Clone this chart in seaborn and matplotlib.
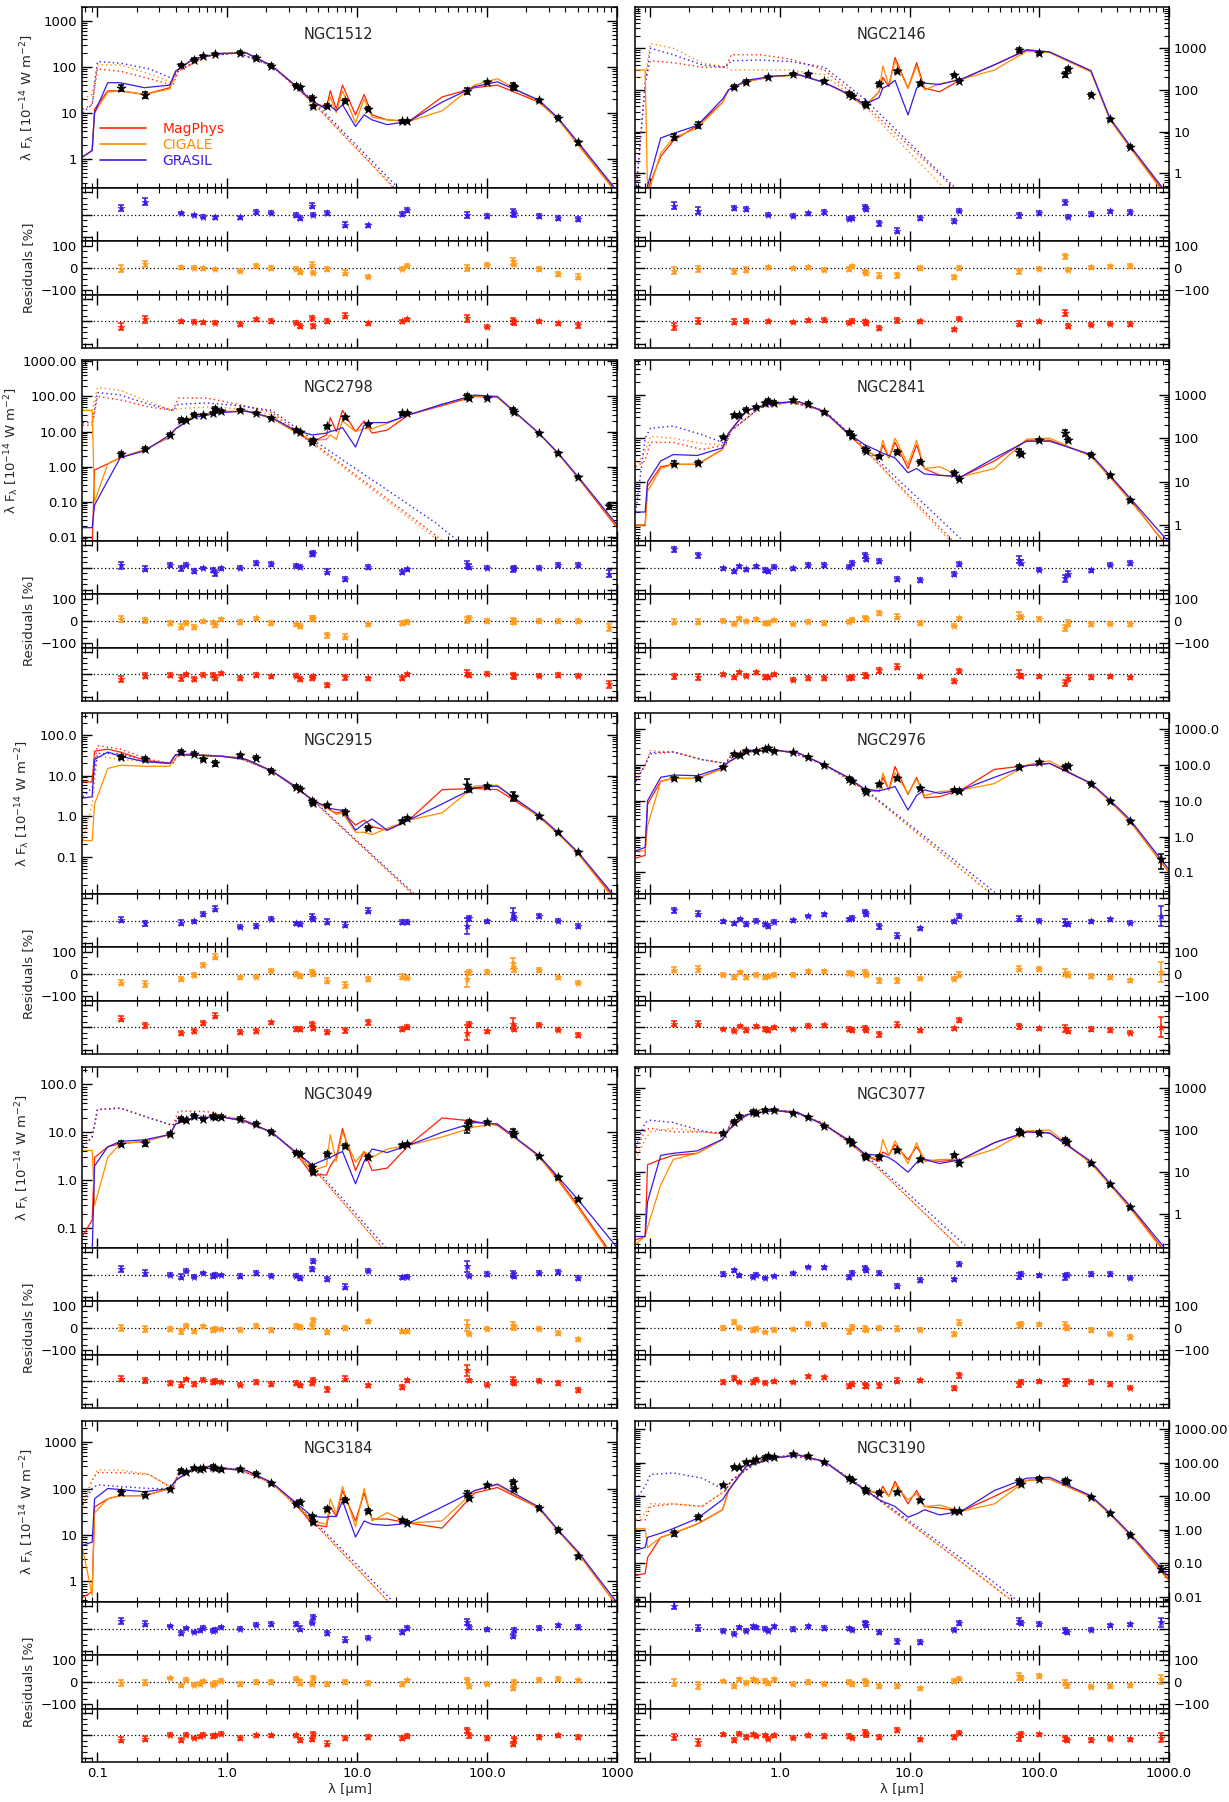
import matplotlib
matplotlib.use("Agg")
import matplotlib.pyplot as plt
import seaborn as sns
from matplotlib.ticker import LogLocator, FixedLocator, FuncFormatter, NullFormatter, MultipleLocator
from matplotlib.lines import Line2D

# wavelength grids of the model curves (micron)
model_lam = [0.077, 0.091, 0.095, 0.12, 0.15, 0.23, 0.36, 0.40, 0.55, 0.9, 1.4, 2.2, 3.3, 4.5, 5.8,
             6.2, 6.9, 7.7, 9.7, 11.3, 13, 17, 25, 45, 80, 120, 250, 350, 500, 1000]
unatt_lam = [0.077, 0.091, 0.1, 0.15, 0.25, 0.38, 0.42, 0.7, 1.2, 2.2, 4.5, 40, 100]

# ---------------- NGC1512 ----------------
ngc1512_lam = [0.153, 0.231, 0.44, 0.55, 0.65, 0.80, 1.25, 1.65, 2.17, 3.4, 3.6, 4.5, 4.6, 5.8, 8.0, 12, 22, 24, 70, 100, 157, 162, 250, 350, 500]
ngc1512_flux = [35, 24.5, 109, 144, 170, 188, 204, 156, 105, 39, 36, 21, 13.7, 14, 18, 12.2, 6.5, 6.5, 30, 46, 38, 36, 18.5, 7.8, 2.25]
ngc1512_err = [15, 15, 6, 6, 6, 6, 8, 8, 8, 8, 8, 10, 8, 10, 10, 8, 8, 8, 15, 8, 15, 12, 8, 8, 10]
ngc1512_res_grasil = [30, 59, 8, -2, -9, -12, -12, 12, 9, -2, -14, 41, 0, 8, -45, -48, 3, 21, -2, -6, 9, 3, -6, -14, -20]
ngc1512_res_cigale = [-3, 18, 3, 2, -2, -5, -12, 9, 0, -3, -18, 15, -21, -5, -21, -39, -3, 11, 0, 15, 30, 20, -5, -27, -39]
ngc1512_res_magphys = [-24, 9, 0, -2, -5, -6, -12, 9, 2, -6, -21, 14, -21, 2, 26, -9, 0, 9, 14, -24, 2, -5, 0, -9, -18]
ngc1512_magphys = [1.1, 1.5, 12, 30, 30, 25, 35, 80, 150, 195, 200, 105, 40, 17, 13, 30, 12, 40, 9, 25, 9, 7, 6.5, 22, 35, 40, 17, 7.5, 2.1, 0.18]
ngc1512_cigale = [1.1, 1.5, 10, 28, 30, 25, 33, 80, 150, 195, 200, 105, 40, 17, 12, 22, 10, 30, 6, 20, 8, 7, 6.5, 11, 40, 55, 17, 7.3, 2.0, 0.17]
ngc1512_grasil = [1.1, 1.5, 10, 45, 45, 35, 40, 80, 150, 195, 200, 105, 40, 18, 12, 14, 11, 15, 5, 9, 7, 5.5, 6.5, 17, 37, 47, 19, 7.8, 2.3, 0.2]
ngc1512_magphys_unatt = [12, 15, 90, 80, 55, 40, 80, 170, 200, 105, 17, 0.027, 0.0017]
ngc1512_cigale_unatt = [20, 25, 110, 110, 70, 45, 80, 170, 200, 105, 17, 0.025, 0.0016]
ngc1512_grasil_unatt = [10, 15, 130, 120, 90, 55, 85, 175, 200, 107, 19, 0.034, 0.0022]

# ---------------- NGC2146 ----------------
ngc2146_lam = [0.153, 0.231, 0.44, 0.55, 0.80, 1.25, 1.65, 2.17, 3.4, 3.6, 4.5, 4.6, 5.8, 8.0, 12, 22, 24, 70, 100, 157, 165, 250, 350, 500]
ngc2146_flux = [7.4, 14.5, 120, 155, 209, 237, 237, 162, 81, 73, 48, 43, 137, 280, 145, 229, 165, 910, 760, 237, 325, 77, 20, 4.3]
ngc2146_err = [15, 15, 10, 10, 6, 6, 6, 8, 8, 8, 8, 8, 10, 10, 8, 8, 8, 10, 8, 12, 8, 8, 8, 8]
ngc2146_res_grasil = [40, 18, 30, 25, 0, -4, 6, 12, -18, -15, 34, 25, -39, -72, -15, -28, 18, -3, 7, 55, -9, 3, 15, 13]
ngc2146_res_cigale = [-12, -4, -15, -7, 3, 0, 3, -7, -4, 7, -15, -22, -34, -33, -1, -40, 0, -15, -3, 52, -7, 3, 7, 10]
ngc2146_res_magphys = [-22, 1, -1, 1, 0, -3, 4, 7, -6, 1, 0, -9, -30, 4, 0, -36, 12, -10, 0, 37, -21, -15, -10, -13]
ngc2146_magphys = [0.1, 0.2, 0.4, 2.5, 6, 14, 50, 100, 160, 210, 230, 150, 80, 40, 90, 200, 120, 600, 110, 450, 110, 90, 180, 400, 900, 800, 280, 20, 4.3, 0.25]
ngc2146_cigale = [300, 300, 0.3, 3, 7, 12, 50, 100, 160, 210, 230, 150, 80, 40, 90, 380, 130, 500, 110, 380, 100, 140, 180, 300, 850, 780, 270, 19, 4.1, 0.22]
ngc2146_grasil = [0.1, 0.2, 0.5, 7, 9, 14, 60, 100, 170, 215, 230, 150, 82, 45, 65, 110, 130, 170, 25, 110, 145, 135, 180, 400, 920, 820, 290, 21, 4.6, 0.28]
ngc2146_magphys_unatt = [0.3, 150, 500, 450, 350, 350, 700, 700, 550, 300, 45, 0.076, 0.0049]
ngc2146_cigale_unatt = [200, 200, 1300, 1000, 450, 350, 300, 300, 300, 230, 40, 0.037, 0.0024]
ngc2146_grasil_unatt = [0.3, 130, 1000, 700, 400, 350, 500, 520, 480, 350, 60, 0.076, 0.0049]

# ---------------- NGC2798 ----------------
ngc2798_lam = [0.153, 0.231, 0.36, 0.44, 0.48, 0.55, 0.65, 0.77, 0.80, 0.90, 1.25, 1.65, 2.17, 3.4, 3.6, 4.5, 4.6, 5.8, 8.0, 12, 22, 24, 70, 72, 100, 157, 162, 250, 350, 500, 870]
ngc2798_flux = [2.3, 3.2, 8.2, 21.6, 21.6, 30.6, 30.6, 34, 45, 38, 41, 34, 24.5, 10.7, 9.6, 5.0, 5.7, 14.2, 25.7, 16.6, 33, 34, 102, 91, 90, 41, 37, 9.0, 2.4, 0.50, 0.074]
ngc2798_err = [15, 12, 8, 12, 6, 8, 6, 8, 10, 6, 8, 8, 8, 8, 8, 10, 8, 10, 10, 8, 8, 8, 15, 10, 8, 12, 10, 8, 8, 8, 15]
ngc2798_res_grasil = [11, -5, 11, -3, 14, -15, -2, -11, -26, -3, 0, 20, 17, 9, 5, 62, 68, -18, -52, 3, -20, -8, 15, 5, 0, -8, -2, 0, 12, 12, -27]
ngc2798_res_cigale = [9, 3, -8, -26, -8, -26, -2, -6, -18, 8, -5, 12, -8, -15, -23, 11, 15, -65, -70, -15, -8, -5, 5, 12, 0, 0, -3, 0, 0, 0, -29]
ngc2798_res_magphys = [-21, -6, -2, -17, 0, -21, -2, -2, -17, 5, -17, -3, -9, -6, -21, -17, -9, -47, -14, -18, -17, 0, 6, -3, 3, -5, -9, -6, -2, -6, -45]
ngc2798_magphys = [0.005, 0.005, 0.8, 1.2, 1.8, 3, 7, 12, 28, 37, 38, 24, 10, 5, 8, 25, 10, 40, 10, 20, 9, 11, 30, 55, 100, 95, 9, 2.4, 0.48, 0.018]
ngc2798_cigale = [40, 40, 0.1, 1.2, 1.8, 3, 7, 12, 28, 37, 38, 24, 10, 5.5, 6, 8, 6, 20, 10, 12, 12, 17, 30, 60, 105, 95, 9, 2.4, 0.5, 0.02]
ngc2798_grasil = [0.018, 0.018, 0.08, 0.4, 1.8, 2.8, 8, 12, 25, 35, 38, 25, 11, 8, 9, 10, 11, 13, 3.6, 15, 18, 18, 30, 60, 110, 100, 9, 2.5, 0.52, 0.022]
ngc2798_magphys_unatt = [15, 15, 100, 80, 50, 40, 90, 90, 60, 35, 5, 0.011, 0.0007]
ngc2798_cigale_unatt = [40, 40, 180, 150, 70, 40, 45, 50, 45, 30, 4.5, 0.009, 0.0006]
ngc2798_grasil_unatt = [18, 18, 130, 110, 60, 40, 60, 65, 55, 40, 6, 0.025, 0.0016]

# ---------------- NGC2841 ----------------
ngc2841_lam = [0.153, 0.231, 0.36, 0.44, 0.48, 0.55, 0.65, 0.77, 0.80, 0.90, 1.25, 1.65, 2.17, 3.4, 3.6, 4.5, 4.6, 5.8, 8.0, 12, 22, 24, 70, 72, 100, 157, 165, 250, 350, 500]
ngc2841_flux = [26, 27, 107, 335, 335, 455, 520, 630, 720, 660, 750, 620, 395, 136, 115, 55, 51, 38, 48, 29, 16, 11.8, 49, 44, 91, 131, 91, 42, 13.9, 3.7]
ngc2841_err = [12, 12, 6, 8, 6, 6, 6, 8, 8, 6, 8, 8, 8, 8, 10, 10, 8, 10, 10, 8, 8, 8, 15, 10, 8, 15, 12, 8, 8, 8]
ngc2841_res_grasil = [83, 56, -3, -17, 6, -8, 6, -11, -17, 5, -3, 12, 12, 5, 21, 55, 38, 29, -52, -56, -29, 17, 36, 23, -9, -48, -27, -12, 14, 20]
ngc2841_res_cigale = [-3, -3, 2, -12, 12, 0, 8, -11, -8, 5, -12, -3, -8, -3, 5, 12, 8, 35, 20, -8, -21, 12, 24, 17, 9, -32, -9, -14, -12, -14]
ngc2841_res_magphys = [-9, -12, 0, -14, 9, -6, 9, -11, -14, 0, -24, -17, -17, -17, -14, -5, -9, 18, 35, -9, -29, 14, 3, -8, -9, -39, -17, -12, -9, -14]
ngc2841_magphys = [1, 1, 8, 22, 25, 25, 55, 130, 430, 650, 680, 400, 130, 55, 35, 70, 35, 80, 20, 70, 20, 14, 13, 30, 90, 90, 40, 13, 4, 0.28]
ngc2841_cigale = [1, 1, 6, 20, 25, 25, 55, 130, 430, 650, 680, 400, 130, 55, 35, 90, 35, 100, 25, 90, 20, 22, 13, 20, 95, 100, 38, 12.5, 3.7, 0.3]
ngc2841_grasil = [2, 2, 10, 30, 42, 40, 60, 130, 430, 650, 690, 410, 135, 70, 50, 45, 40, 35, 16, 20, 15, 14, 13, 35, 85, 85, 42, 14, 4.2, 0.4]
ngc2841_magphys_unatt = [22, 30, 80, 80, 55, 70, 150, 500, 680, 420, 55, 0.063, 0.004]
ngc2841_cigale_unatt = [22, 50, 110, 100, 75, 70, 150, 500, 680, 420, 55, 0.05, 0.0032]
ngc2841_grasil_unatt = [2, 100, 170, 190, 120, 75, 150, 510, 690, 430, 60, 0.125, 0.008]

# ---------------- NGC2915 ----------------
ngc2915_lam = [0.153, 0.231, 0.44, 0.55, 0.65, 0.80, 1.25, 1.65, 2.17, 3.4, 3.6, 4.5, 4.6, 5.8, 8.0, 12, 22, 24, 70, 72, 100, 157, 162, 250, 350, 500]
ngc2915_flux = [29, 25.5, 38, 34.5, 25, 20, 32, 27.5, 13.1, 5.3, 4.8, 2.4, 2.05, 1.83, 1.28, 0.52, 0.75, 0.88, 6.0, 4.8, 5.5, 3.1, 2.9, 1.0, 0.40, 0.127]
ngc2915_err = [12, 12, 10, 8, 8, 12, 8, 8, 8, 8, 8, 10, 8, 10, 12, 10, 10, 8, 35, 10, 8, 25, 10, 8, 8, 8]
ngc2915_res_grasil = [4, -12, -9, -3, 30, 54, -27, -24, 9, -12, -15, 18, 7, -4, -18, 45, -7, -6, -24, 10, -3, 33, 12, 22, 0, -24]
ngc2915_res_cigale = [-39, -45, -22, -4, 40, 78, -15, -12, 15, -1, -9, 9, 0, -30, -49, -22, -12, -16, -24, 7, 10, 48, 21, 18, -15, -39]
ngc2915_res_magphys = [39, 9, -25, -16, 19, 52, -21, -16, 22, -7, -7, 15, -3, -21, -13, 22, -7, 1, -24, 13, -18, 16, -6, 12, -10, -34]
ngc2915_magphys = [7, 7, 40, 45, 38, 24, 20, 33, 32, 30, 25, 13, 5.5, 2.5, 1.6, 1.4, 1.2, 1.3, 0.6, 0.8, 0.55, 0.45, 0.8, 4.5, 4.8, 4.5, 1.0, 0.38, 0.12, 0.008]
ngc2915_cigale = [0.25, 0.25, 2, 15, 18, 17, 17, 33, 32, 30, 25, 13, 5.5, 2.5, 1.6, 1.4, 1.1, 1.2, 0.4, 0.4, 0.35, 0.5, 0.8, 1.2, 5.5, 5.8, 0.95, 0.37, 0.12, 0.007]
ngc2915_grasil = [2.8, 3, 25, 38, 30, 22, 20, 33, 32, 30, 25, 13, 5.5, 2.5, 1.7, 1.55, 1.45, 1.4, 0.45, 0.65, 0.85, 0.45, 0.8, 2.0, 5.0, 5.5, 1.05, 0.4, 0.13, 0.009]
ngc2915_magphys_unatt = [7, 8, 55, 45, 25, 20, 35, 32, 28, 13, 2.5, 0.0036, 0.00023]
ngc2915_cigale_unatt = [0.25, 2, 30, 25, 22, 20, 34, 32, 28, 13, 2.5, 0.0036, 0.00023]
ngc2915_grasil_unatt = [3, 5, 35, 35, 22, 20, 34, 32, 28, 13, 2.6, 0.004, 0.00026]

# ---------------- NGC2976 ----------------
ngc2976_lam = [0.153, 0.231, 0.36, 0.44, 0.49, 0.55, 0.65, 0.77, 0.80, 0.90, 1.25, 1.65, 2.17, 3.4, 3.6, 4.5, 4.6, 5.8, 8.0, 12, 22, 24, 70, 100, 157, 165, 250, 350, 500, 870]
ngc2976_flux = [42, 42, 88, 200, 187, 247, 247, 270, 293, 247, 222, 167, 100, 41.5, 35.5, 20, 18, 29, 42, 23, 20, 19, 88, 117, 85, 94, 30, 10, 2.75, 0.23]
ngc2976_err = [12, 12, 6, 8, 6, 8, 6, 8, 8, 6, 6, 6, 6, 8, 8, 8, 8, 10, 10, 8, 8, 10, 12, 8, 15, 10, 8, 8, 8, 45]
ngc2976_res_grasil = [47, 32, -3, -12, 8, -15, 0, -17, -23, -5, 2, 21, 29, 6, 12, 41, 29, -26, -67, -35, -3, 21, 9, 0, -9, -15, -3, 6, -9, 21]
ngc2976_res_cigale = [20, 23, -3, -14, 8, -15, -3, -15, -11, -3, -3, 12, 12, 5, 2, 8, -3, -29, -29, -20, -21, -3, 24, 23, 6, -3, -8, -15, -29, 9]
ngc2976_res_magphys = [17, 17, -8, -15, 6, -12, 5, -8, -11, 0, -8, 8, 9, -8, -11, -3, -11, -32, 12, -14, -5, 33, 5, -5, -5, -15, -8, -11, -24, 0]
ngc2976_magphys = [0.25, 0.3, 8, 35, 42, 42, 80, 120, 230, 260, 210, 100, 45, 20, 18, 45, 20, 90, 15, 45, 12, 13, 20, 75, 95, 110, 30, 10, 2.7, 0.1]
ngc2976_cigale = [0.4, 0.4, 2, 35, 42, 42, 80, 120, 230, 260, 210, 100, 45, 20, 18, 60, 20, 60, 16, 40, 14, 18, 20, 30, 100, 130, 29, 9.5, 2.6, 0.1]
ngc2976_grasil = [0.4, 0.5, 10, 45, 52, 50, 85, 120, 230, 260, 210, 100, 46, 21, 19, 20, 22, 25, 5.5, 14, 20, 16, 20, 45, 95, 110, 31, 10.5, 3.0, 0.12]
ngc2976_magphys_unatt = [35, 100, 200, 230, 140, 110, 200, 280, 230, 100, 20, 0.03, 0.0019]
ngc2976_cigale_unatt = [42, 100, 250, 230, 140, 110, 180, 280, 230, 100, 20, 0.03, 0.0019]
ngc2976_grasil_unatt = [35, 100, 220, 230, 140, 110, 180, 280, 230, 102, 21, 0.04, 0.0026]

# ---------------- NGC3049 ----------------
ngc3049_lam = [0.153, 0.231, 0.36, 0.44, 0.48, 0.55, 0.65, 0.77, 0.80, 0.90, 1.25, 1.65, 2.17, 3.4, 3.6, 4.5, 4.6, 5.8, 8.0, 12, 22, 24, 70, 72, 100, 157, 162, 250, 350, 500]
ngc3049_flux = [5.8, 6.0, 9.2, 19.3, 17.8, 22.3, 19, 21.5, 20.6, 21.3, 19.3, 15, 10.4, 3.8, 3.6, 1.94, 1.5, 3.6, 5.3, 3.1, 5.4, 5.6, 12.8, 16.7, 16.2, 10, 9.1, 3.2, 1.15, 0.40]
ngc3049_err = [12, 12, 8, 10, 6, 8, 6, 8, 8, 6, 8, 8, 8, 8, 8, 10, 10, 10, 10, 8, 8, 8, 25, 8, 8, 15, 10, 8, 8, 8]
ngc3049_res_grasil = [25, 7, 0, -9, 18, -9, 7, -7, 0, -1, -6, 7, -4, -4, -15, 25, 61, -19, -54, 18, -12, -9, 37, -4, 4, 3, -4, 7, 12, -15]
ngc3049_res_cigale = [0, -4, -4, -15, 10, -15, 7, -10, -3, -4, -7, 10, -10, 10, 4, 7, 36, -18, 0, 30, -15, -15, 12, -25, -3, 12, 3, -3, -22, -51]
ngc3049_res_magphys = [12, 4, -7, -15, 10, -12, 7, -4, 1, -3, -15, -3, -12, -7, -18, -7, 7, -36, 12, -18, -25, 4, 49, 4, -15, 4, -7, 3, -7, -40]
ngc3049_magphys = [0.07, 0.15, 3, 5, 5.8, 6.5, 9, 15, 20, 21, 17, 10, 4, 1.3, 1.3, 2, 3, 12, 1.6, 4, 1.6, 1.8, 5.4, 20, 17, 14, 3.3, 1.1, 0.3, 0.02]
ngc3049_cigale = [4.2, 4.2, 0.3, 3, 5.8, 6.5, 9, 15, 20, 21, 17, 10, 4, 1.6, 2, 9, 2.5, 10, 2.4, 4, 3, 4.5, 5.4, 8, 13, 15, 3.1, 1.0, 0.27, 0.018]
ngc3049_grasil = [0.03, 0.03, 2, 5, 6.5, 7, 9, 15, 20, 21, 17, 10, 4, 2.1, 2.8, 3, 3.5, 4, 0.85, 2.5, 4.5, 3.8, 5.4, 10, 16, 15, 3.3, 1.2, 0.4, 0.04]
ngc3049_magphys_unatt = [5, 8, 30, 32, 20, 14, 28, 27, 19, 10, 1.9, 0.0021, 0.00013]
ngc3049_cigale_unatt = [5, 8, 30, 32, 20, 14, 20, 22, 19, 10, 1.9, 0.0021, 0.00013]
ngc3049_grasil_unatt = [5, 8, 30, 32, 20, 14, 20, 22, 19, 10, 2.1, 0.0028, 0.00018]

# ---------------- NGC3077 ----------------
ngc3077_lam = [0.36, 0.44, 0.48, 0.62, 0.65, 0.77, 0.90, 1.25, 1.65, 2.17, 3.4, 3.6, 4.5, 4.6, 5.8, 8.0, 12, 22, 24, 70, 72, 100, 157, 162, 250, 350, 500]
ngc3077_flux = [83, 158, 210, 270, 247, 302, 296, 257, 200, 126, 57, 49, 24, 22.5, 23.3, 33, 20, 25.5, 16.8, 93, 83, 87, 57, 52, 16.2, 5.2, 1.47]
ngc3077_err = [8, 8, 6, 8, 6, 6, 6, 6, 6, 6, 10, 10, 10, 8, 10, 10, 8, 8, 10, 12, 8, 8, 15, 8, 8, 8, 8]
ngc3077_res_grasil = [3, 19, -3, -9, 0, -15, -6, 7, 34, 33, -10, 7, 30, 19, 7, -52, -25, -21, 48, -6, 3, -3, -10, 0, 3, 3, -13]
ngc3077_res_cigale = [0, 27, 1, -10, -3, -18, -7, -4, 19, 15, -15, 3, -3, -7, 0, -3, -7, -27, 24, 12, 18, 16, 12, 0, -10, -25, -40]
ngc3077_res_magphys = [-4, 16, -3, -4, 7, -6, 0, -3, 22, 18, -21, -13, -18, -21, -18, 3, 4, -30, 27, -13, -3, 0, -6, 3, -4, -13, -28]
ngc3077_magphys = [0.25, 0.3, 15, 20, 25, 28, 60, 100, 230, 290, 250, 130, 60, 25, 18, 30, 25, 45, 20, 40, 20, 18, 20, 50, 90, 85, 17, 5.2, 1.5, 0.1]
ngc3077_cigale = [0.2, 0.3, 0.5, 5, 20, 28, 60, 100, 230, 290, 250, 130, 60, 25, 20, 60, 25, 55, 16, 50, 18, 20, 20, 35, 95, 100, 16, 5.0, 1.4, 0.09]
ngc3077_grasil = [0.3, 0.3, 2, 25, 28, 32, 60, 100, 230, 290, 250, 130, 60, 27, 25, 25, 22, 18, 10, 17, 20, 16, 20, 50, 90, 85, 18, 5.5, 1.6, 0.12]
ngc3077_magphys_unatt = [30, 100, 110, 90, 90, 80, 150, 300, 280, 140, 25, 0.037, 0.0024]
ngc3077_cigale_unatt = [20, 60, 90, 110, 90, 80, 150, 300, 280, 140, 25, 0.037, 0.0024]
ngc3077_grasil_unatt = [40, 150, 170, 150, 95, 80, 150, 300, 280, 140, 27, 0.06, 0.0038]

# ---------------- NGC3184 ----------------
ngc3184_lam = [0.153, 0.231, 0.36, 0.44, 0.48, 0.55, 0.62, 0.65, 0.77, 0.80, 0.90, 1.25, 1.65, 2.17, 3.4, 3.6, 4.5, 4.6, 5.8, 8.0, 12, 22, 24, 70, 72, 100, 157, 162, 250, 350, 500]
ngc3184_flux = [84, 74, 99, 238, 226, 275, 260, 275, 290, 275, 257, 257, 208, 129, 47, 51, 25.5, 19, 36, 56, 33, 20.6, 18.3, 77, 63, 117, 140, 100, 38, 12.8, 3.5]
ngc3184_err = [12, 12, 6, 8, 6, 6, 6, 6, 8, 8, 6, 8, 8, 8, 8, 10, 8, 10, 10, 10, 8, 8, 8, 12, 10, 8, 10, 10, 8, 8, 8]
ngc3184_res_grasil = [34, 22, 12, -19, 3, -15, -7, 4, -9, -4, 7, 0, 18, 22, 22, 0, 27, 52, -19, -49, -40, -15, 4, 30, 7, -3, -33, -6, 4, 15, 7]
ngc3184_res_cigale = [-4, -3, 18, -15, 10, -12, -7, 3, -12, -4, 6, -9, 0, 0, 15, -3, -7, 18, -9, 0, -4, -9, 7, 7, -18, -7, -27, 0, 10, 13, 7]
ngc3184_res_magphys = [-19, -15, 3, -22, 3, -12, -4, 3, -4, 0, 7, -12, 0, 0, 0, -22, -18, 7, -37, -12, -7, -12, -4, 22, 0, -12, -40, -18, -7, 0, -7]
ngc3184_magphys = [0.45, 0.6, 40, 60, 70, 70, 100, 150, 270, 270, 240, 130, 50, 17, 15, 40, 25, 90, 20, 80, 22, 22, 18, 14, 80, 105, 38, 12.5, 4.2, 0.3]
ngc3184_cigale = [5, 0.5, 30, 60, 70, 70, 100, 150, 270, 270, 240, 130, 50, 20, 17, 60, 28, 110, 15, 100, 20, 30, 18, 20, 90, 120, 37, 12.5, 4.0, 0.3]
ngc3184_grasil = [6, 7, 60, 100, 95, 85, 100, 150, 270, 270, 245, 135, 52, 25, 24, 25, 25, 55, 9, 20, 17, 16, 18, 40, 90, 125, 40, 13, 4.4, 0.35]
ngc3184_magphys_unatt = [45, 150, 220, 220, 200, 100, 220, 300, 260, 130, 20, 0.031, 0.002]
ngc3184_cigale_unatt = [45, 150, 250, 250, 200, 100, 220, 300, 260, 130, 20, 0.031, 0.002]
ngc3184_grasil_unatt = [45, 100, 120, 110, 100, 100, 200, 300, 260, 135, 22, 0.043, 0.0028]

# ---------------- NGC3190 ----------------
ngc3190_lam = [0.153, 0.231, 0.36, 0.44, 0.48, 0.55, 0.62, 0.65, 0.76, 0.80, 0.90, 1.25, 1.65, 2.17, 3.4, 3.6, 4.5, 4.6, 5.8, 8.0, 12, 22, 24, 70, 72, 100, 157, 162, 250, 350, 500, 870]
ngc3190_flux = [0.80, 2.5, 21.7, 76, 73, 107, 110, 126, 144, 158, 151, 181, 158, 107, 35, 31.4, 16.5, 14.1, 12.8, 13.1, 7.6, 3.7, 3.6, 28, 24, 34, 29.5, 28, 9.8, 3.1, 0.73, 0.069]
ngc3190_err = [15, 15, 6, 8, 6, 8, 6, 6, 8, 8, 6, 8, 8, 8, 8, 8, 10, 10, 10, 10, 8, 8, 8, 15, 10, 8, 12, 10, 8, 8, 8, 20]
ngc3190_res_grasil = [103, 3, -9, -22, 6, -9, 10, 6, 0, -9, 10, -1, 10, 3, 1, -4, 25, 18, -16, -57, -60, -4, 25, 35, 25, 21, -7, -16, -4, 15, 19, 28]
ngc3190_res_cigale = [-3, -15, 4, -18, 12, -3, 12, 6, 4, -6, 12, -7, 0, -7, 0, -10, 4, -6, -18, -18, -29, 4, 15, 26, 18, 26, -3, -15, -21, -18, -15, 12]
ngc3190_res_magphys = [-7, -32, 4, -22, 7, -7, 4, -3, 0, -15, 0, -10, 0, -3, -3, -10, 12, 4, -7, 24, -18, -7, 12, -10, 4, 4, -13, -21, -21, -15, -18, -10]
ngc3190_magphys = [0.044, 0.05, 0.15, 0.6, 0.8, 1.5, 4, 15, 80, 140, 170, 110, 35, 16, 12, 20, 10, 28, 6, 15, 5, 4.5, 3.6, 10, 30, 33, 10, 3.0, 0.72, 0.033]
ngc3190_cigale = [1.1, 1.1, 0.3, 0.6, 0.8, 1.5, 4, 15, 80, 140, 170, 110, 35, 16, 12, 15, 10, 22, 8, 12, 5, 5.5, 3.6, 6, 30, 33, 9.5, 2.9, 0.7, 0.03]
ngc3190_grasil = [0.25, 0.3, 0.6, 0.8, 1.1, 2.2, 8, 15, 80, 140, 170, 110, 35, 16, 8, 7, 6, 5, 2.4, 3, 4, 2.8, 3.6, 15, 35, 37, 10.5, 3.2, 0.78, 0.04]
ngc3190_magphys_unatt = [2, 2, 5, 6, 5, 15, 30, 120, 170, 110, 16, 0.028, 0.0018]
ngc3190_cigale_unatt = [2, 3, 6, 6, 5, 15, 30, 120, 170, 110, 16, 0.028, 0.0018]
ngc3190_grasil_unatt = [8, 20, 45, 50, 35, 15, 30, 120, 170, 110, 17, 0.038, 0.0024]

panels = [
    dict(name='NGC1512', lam=ngc1512_lam, flux=ngc1512_flux, err=ngc1512_err,
         res=[ngc1512_res_grasil, ngc1512_res_cigale, ngc1512_res_magphys],
         mod=[ngc1512_magphys, ngc1512_cigale, ngc1512_grasil],
         una=[ngc1512_magphys_unatt, ngc1512_cigale_unatt, ngc1512_grasil_unatt], ylim=(0.23, 2000), dec=0),
    dict(name='NGC2146', lam=ngc2146_lam, flux=ngc2146_flux, err=ngc2146_err,
         res=[ngc2146_res_grasil, ngc2146_res_cigale, ngc2146_res_magphys],
         mod=[ngc2146_magphys, ngc2146_cigale, ngc2146_grasil],
         una=[ngc2146_magphys_unatt, ngc2146_cigale_unatt, ngc2146_grasil_unatt], ylim=(0.44, 9800), dec=0),
    dict(name='NGC2798', lam=ngc2798_lam, flux=ngc2798_flux, err=ngc2798_err,
         res=[ngc2798_res_grasil, ngc2798_res_cigale, ngc2798_res_magphys],
         mod=[ngc2798_magphys, ngc2798_cigale, ngc2798_grasil],
         una=[ngc2798_magphys_unatt, ngc2798_cigale_unatt, ngc2798_grasil_unatt], ylim=(0.0075, 1100), dec=2),
    dict(name='NGC2841', lam=ngc2841_lam, flux=ngc2841_flux, err=ngc2841_err,
         res=[ngc2841_res_grasil, ngc2841_res_cigale, ngc2841_res_magphys],
         mod=[ngc2841_magphys, ngc2841_cigale, ngc2841_grasil],
         una=[ngc2841_magphys_unatt, ngc2841_cigale_unatt, ngc2841_grasil_unatt], ylim=(0.43, 6300), dec=0),
    dict(name='NGC2915', lam=ngc2915_lam, flux=ngc2915_flux, err=ngc2915_err,
         res=[ngc2915_res_grasil, ngc2915_res_cigale, ngc2915_res_magphys],
         mod=[ngc2915_magphys, ngc2915_cigale, ngc2915_grasil],
         una=[ngc2915_magphys_unatt, ngc2915_cigale_unatt, ngc2915_grasil_unatt], ylim=(0.012, 350), dec=1),
    dict(name='NGC2976', lam=ngc2976_lam, flux=ngc2976_flux, err=ngc2976_err,
         res=[ngc2976_res_grasil, ngc2976_res_cigale, ngc2976_res_magphys],
         mod=[ngc2976_magphys, ngc2976_cigale, ngc2976_grasil],
         una=[ngc2976_magphys_unatt, ngc2976_cigale_unatt, ngc2976_grasil_unatt], ylim=(0.025, 2800), dec=1),
    dict(name='NGC3049', lam=ngc3049_lam, flux=ngc3049_flux, err=ngc3049_err,
         res=[ngc3049_res_grasil, ngc3049_res_cigale, ngc3049_res_magphys],
         mod=[ngc3049_magphys, ngc3049_cigale, ngc3049_grasil],
         una=[ngc3049_magphys_unatt, ngc3049_cigale_unatt, ngc3049_grasil_unatt], ylim=(0.039, 230), dec=1),
    dict(name='NGC3077', lam=ngc3077_lam, flux=ngc3077_flux, err=ngc3077_err,
         res=[ngc3077_res_grasil, ngc3077_res_cigale, ngc3077_res_magphys],
         mod=[ngc3077_magphys, ngc3077_cigale, ngc3077_grasil],
         una=[ngc3077_magphys_unatt, ngc3077_cigale_unatt, ngc3077_grasil_unatt], ylim=(0.16, 3100), dec=0),
    dict(name='NGC3184', lam=ngc3184_lam, flux=ngc3184_flux, err=ngc3184_err,
         res=[ngc3184_res_grasil, ngc3184_res_cigale, ngc3184_res_magphys],
         mod=[ngc3184_magphys, ngc3184_cigale, ngc3184_grasil],
         una=[ngc3184_magphys_unatt, ngc3184_cigale_unatt, ngc3184_grasil_unatt], ylim=(0.36, 2840), dec=0),
    dict(name='NGC3190', lam=ngc3190_lam, flux=ngc3190_flux, err=ngc3190_err,
         res=[ngc3190_res_grasil, ngc3190_res_cigale, ngc3190_res_magphys],
         mod=[ngc3190_magphys, ngc3190_cigale, ngc3190_grasil],
         una=[ngc3190_magphys_unatt, ngc3190_cigale_unatt, ngc3190_grasil_unatt], ylim=(0.0071, 1770), dec=2),
]

MAG = '#ff2200'
CIG = '#ff8c00'
GRA = '#3a1ae6'
model_colors = [MAG, CIG, GRA]       # order of 'mod' and 'una'
res_colors = [GRA, '#ff9a1a', MAG]   # top, middle, bottom residual panel

sns.set_theme(style="ticks")
plt.rcParams['font.family'] = ['DejaVu Sans']
plt.rcParams['font.size'] = 9.5
plt.rcParams['axes.linewidth'] = 1.1
plt.rcParams['axes.edgecolor'] = 'black'

W, H = 1229, 1802
fig = plt.figure(figsize=(W / 100, H / 100), dpi=100)

col_x = [82, 635]
col_w = [535, 534]
row_top = [7, 360, 713, 1067, 1421]
sed_h = 181
res_h = 160 / 3.0
XLIM = (0.076, 1000)
TICK_FS = 9.5

xlab_left = {0.1: '0.1', 1: '1.0', 10: '10.0', 100: '100.0', 1000: '1000'}
xlab_right = {1: '1.0', 10: '10.0', 100: '100.0', 1000: '1000.0'}


def add_ax(x, top, w, h):
    return fig.add_axes([x / W, 1 - (top + h) / H, w / W, h / H])


def style_x(ax, col, show):
    ax.set_xscale('log')
    ax.set_xlim(*XLIM)
    ax.xaxis.set_major_locator(FixedLocator([0.1, 1, 10, 100, 1000]))
    ax.xaxis.set_minor_locator(LogLocator(base=10, subs=range(2, 10), numticks=20))
    if show:
        labs = xlab_left if col == 0 else xlab_right
        ax.xaxis.set_major_formatter(FuncFormatter(lambda v, p: labs.get(round(v, 1) if v < 1 else int(round(v)), '')))
    else:
        ax.xaxis.set_major_formatter(NullFormatter())
    ax.xaxis.set_minor_formatter(NullFormatter())
    ax.tick_params(which='both', direction='in', top=True, right=True, colors='black', labelsize=TICK_FS)
    ax.tick_params(which='major', length=7, width=1)
    ax.tick_params(which='minor', length=3.5, width=0.8)


for i, p in enumerate(panels):
    row, col = divmod(i, 2)
    x0, w, top = col_x[col], col_w[col], row_top[row]
    ax = add_ax(x0, top, w, sed_h)
    style_x(ax, col, False)
    ax.set_yscale('log')
    ax.set_ylim(*p['ylim'])
    ax.yaxis.set_major_locator(LogLocator(base=10, numticks=20))
    ax.yaxis.set_minor_locator(LogLocator(base=10, subs=range(2, 10), numticks=20))
    d = p['dec']
    ax.yaxis.set_major_formatter(FuncFormatter(lambda v, pos, d=d: f"{v:.{d}f}"))
    ax.yaxis.set_minor_formatter(NullFormatter())
    if col == 1:
        ax.tick_params(axis='y', labelleft=False, labelright=True, pad=3)
    else:
        ax.set_ylabel(r'λ F$_{\mathrm{λ}}$ [10$^{-14}$ W m$^{-2}$]', fontsize=9.5,
                      labelpad=1 if d == 2 else 5)

    # unattenuated (dotted) and attenuated (solid) model spectra
    for vals, c in zip(p['una'], model_colors):
        sns.lineplot(x=unatt_lam, y=vals, ax=ax, color=c, lw=1.0, linestyle=(0, (1, 2.2)),
                     estimator=None, sort=False, legend=False)
    for vals, c in zip(p['mod'], model_colors):
        sns.lineplot(x=model_lam, y=vals, ax=ax, color=c, lw=0.9,
                     estimator=None, sort=False, legend=False)

    # observed fluxes
    yerr = [f * e / 100 for f, e in zip(p['flux'], p['err'])]
    ax.errorbar(p['lam'], p['flux'], yerr=yerr, fmt='none', ecolor='black', elinewidth=1.1,
                capsize=2.5, capthick=1.1, zorder=6)
    sns.scatterplot(x=p['lam'], y=p['flux'], ax=ax, marker='*', s=50, color='black',
                    edgecolor='black', linewidth=0.4, zorder=7, legend=False)
    ax.set_ylim(*p['ylim'])
    ax.text(0.48, 0.85, p['name'], transform=ax.transAxes, ha='center', va='center', fontsize=10.5)

    if i == 0:
        handles = [Line2D([], [], color=MAG, lw=1.2), Line2D([], [], color=CIG, lw=1.2),
                   Line2D([], [], color=GRA, lw=1.2)]
        ax.legend(handles, ['MagPhys', 'CIGALE', 'GRASIL'], loc='lower left',
                  bbox_to_anchor=(0.01, 0.04), frameon=False, handlelength=3.3,
                  labelspacing=0.15, handletextpad=1.2, fontsize=10,
                  labelcolor=[MAG, CIG, GRA])

    # residual panels
    for k in range(3):
        axr = add_ax(x0, top + sed_h + k * res_h, w, res_h)
        show_x = (row == 4 and k == 2)
        style_x(axr, col, show_x)
        axr.set_ylim(-120, 120)
        axr.yaxis.set_major_locator(FixedLocator([-100, 0, 100]))
        axr.yaxis.set_minor_locator(MultipleLocator(25))
        axr.axhline(0, color='black', lw=0.9, linestyle=(0, (1, 2)), zorder=1)
        c = res_colors[k]
        axr.errorbar(p['lam'], p['res'][k], yerr=p['err'], fmt='none', ecolor=c, elinewidth=1.1,
                     capsize=2.5, capthick=1.1, zorder=3)
        sns.scatterplot(x=p['lam'], y=p['res'][k], ax=axr, marker='*', s=30, color=c,
                        edgecolor=c, linewidth=0.3, zorder=4, legend=False)
        axr.set_ylim(-120, 120)
        if k == 1:
            if col == 1:
                axr.tick_params(axis='y', labelleft=False, labelright=True, pad=3)
            else:
                axr.set_ylabel('Residuals [%]', fontsize=9.5)
        else:
            axr.yaxis.set_major_formatter(NullFormatter())
        if show_x:
            axr.set_xlabel('λ [μm]', fontsize=9.5, labelpad=2)

fig.savefig('out.png', dpi=100)
